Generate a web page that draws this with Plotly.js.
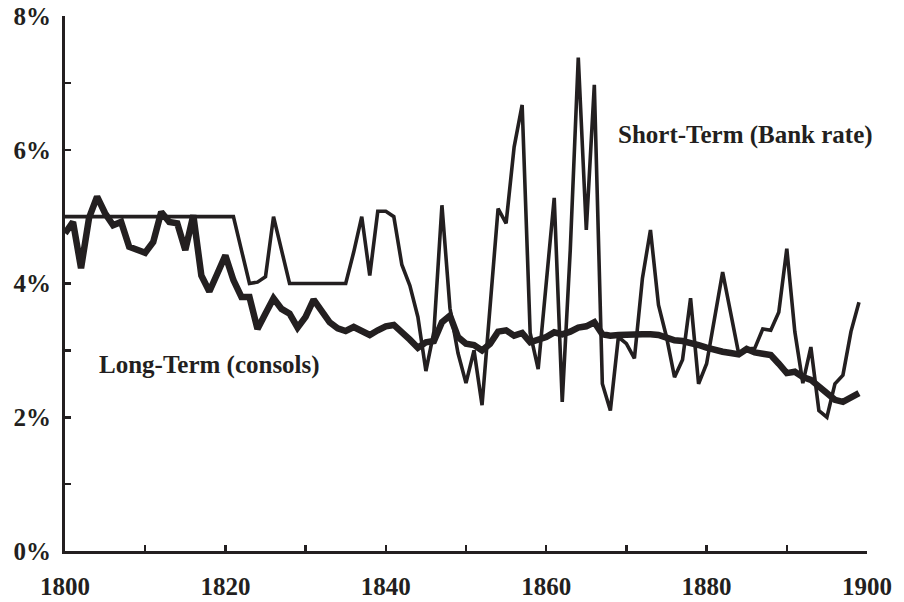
<!DOCTYPE html>
<html>
<head>
<meta charset="utf-8">
<script src="https://cdn.plot.ly/plotly-3.0.1.min.js"></script>
<style>html,body{margin:0;padding:0;background:#fff;}#chart{width:904px;height:602px;}</style>
</head>
<body>
<div id="chart"></div>
<script>
var years = [];
for (var y = 1800; y <= 1899; y++) years.push(y);

var shortTerm = [
  5.0,5.0,5.0,5.0,5.0,5.0,5.0,5.0,5.0,5.0,
  5.0,5.0,5.0,5.0,5.0,5.0,5.0,5.0,5.0,5.0,
  5.0,5.0,4.5,4.0,4.02,4.1,5.0,4.5,4.0,4.0,
  4.0,4.0,4.0,4.0,4.0,4.0,4.47,5.0,4.12,5.08,
  5.08,5.0,4.28,3.97,3.5,2.69,3.28,5.17,3.63,2.96,
  2.51,3.0,2.18,3.65,5.12,4.9,6.04,6.67,3.26,2.72,
  4.0,5.28,2.23,4.5,7.38,4.8,6.97,2.5,2.1,3.2,
  3.1,2.88,4.08,4.8,3.68,3.2,2.6,2.86,3.78,2.5,
  2.8,3.5,4.17,3.56,2.95,3.02,3.03,3.32,3.3,3.57,
  4.52,3.28,2.51,3.05,2.1,2.0,2.5,2.63,3.28,3.72
];

var longTerm = [
  4.75,4.92,4.23,4.98,5.3,5.05,4.87,4.92,4.55,4.5,
  4.46,4.62,5.07,4.92,4.9,4.5,5.02,4.12,3.88,4.15,
  4.42,4.05,3.8,3.8,3.32,3.55,3.78,3.62,3.55,3.34,
  3.5,3.76,3.57,3.42,3.33,3.29,3.35,3.28,3.23,3.3,
  3.36,3.38,3.28,3.16,3.04,3.12,3.14,3.42,3.52,3.2,
  3.1,3.08,3.0,3.1,3.28,3.3,3.22,3.26,3.12,3.15,
  3.2,3.27,3.24,3.28,3.34,3.36,3.42,3.24,3.22,3.23,
  3.24,3.23,3.24,3.24,3.23,3.19,3.15,3.14,3.12,3.08,
  3.04,3.0,2.98,2.96,2.94,3.02,2.97,2.95,2.93,2.8,
  2.66,2.68,2.6,2.56,2.45,2.36,2.26,2.23,2.29,2.36
];

var xTickVals = [1800,1810,1820,1830,1840,1850,1860,1870,1880,1890,1900];
var xTickText = ['1800','','1820','','1840','','1860','','1880','','1900'];
var yTickVals = [0,1,2,3,4,5,6,7,8];
var yTickText = ['0%','','2%','','4%','','6%','','8%'];

var shortLabel = 'Short-Term (Bank rate)';
var longLabel = 'Long-Term (consols)';

var ink = '#231f20';
var serif = 'Liberation Serif, Times New Roman, serif';

var traces = [
  {x: years, y: shortTerm, type: 'scatter', mode: 'lines', name: shortLabel,
   line: {color: ink, width: 3.6}, hoverinfo: 'skip'},
  {x: years, y: longTerm, type: 'scatter', mode: 'lines', name: longLabel,
   line: {color: ink, width: 6.5}, hoverinfo: 'skip'}
];

var tickFont = {family: serif, size: 25, weight: 'bold', color: ink};

var layout = {
  width: 904, height: 602,
  margin: {l: 65, r: 37, t: 16, b: 51},
  paper_bgcolor: '#fff', plot_bgcolor: '#fff',
  showlegend: false,
  xaxis: {
    range: [1800, 1900], tickvals: xTickVals, ticktext: xTickText,
    ticks: 'inside', ticklen: 6, tickwidth: 2.5, tickcolor: ink,
    showline: true, linecolor: ink, linewidth: 3, showgrid: false, zeroline: false,
    tickfont: tickFont, ticklabelstandoff: 11
  },
  yaxis: {
    range: [0, 8], tickvals: yTickVals, ticktext: yTickText,
    ticks: 'inside', ticklen: 6, tickwidth: 2.5, tickcolor: ink,
    showline: true, linecolor: ink, linewidth: 3, showgrid: false, zeroline: false,
    tickfont: tickFont, ticklabelstandoff: 6
  },
  annotations: [
    {x: 1884.8, y: 6.22, xref: 'x', yref: 'y', text: '<b>' + shortLabel + '</b>', showarrow: false,
     font: {family: serif, size: 25, color: ink}},
    {x: 1818, y: 2.78, xref: 'x', yref: 'y', text: '<b>' + longLabel + '</b>', showarrow: false,
     font: {family: serif, size: 25, color: ink}}
  ]
};

Plotly.newPlot('chart', traces, layout, {displayModeBar: false, staticPlot: true});
</script>
</body>
</html>
